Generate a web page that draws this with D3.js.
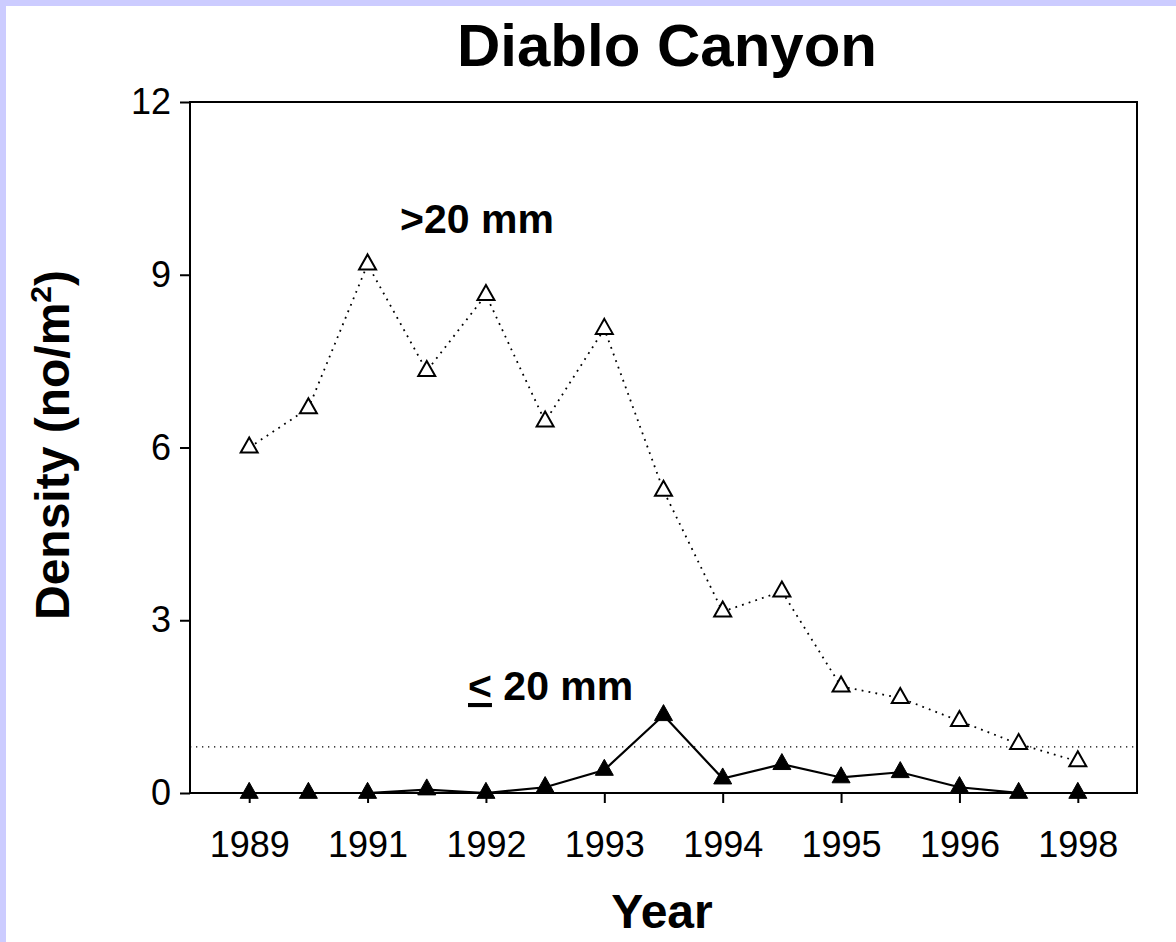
<!DOCTYPE html>
<html>
<head>
<meta charset="utf-8">
<script src="https://cdn.jsdelivr.net/npm/d3@7"></script>
<style>
  html, body { margin: 0; padding: 0; background: #fff; }
  svg { display: block; }
  text { font-family: "Liberation Sans", Arial, Helvetica, sans-serif; fill: #000; }
</style>
</head>
<body>
<script>
// ---- data ----
const surveys = ["1989a","1989b","1991a","1991b","1992a","1992b","1993a","1993b",
                 "1994a","1994b","1995a","1995b","1996a","1996b","1998a"];
const tickLabels = {"1989a":"1989","1991a":"1991","1992a":"1992","1993a":"1993",
                    "1994a":"1994","1995a":"1995","1996a":"1996","1998a":"1998"};
const large = [6.0, 6.68, 9.18, 7.33, 8.65, 6.45, 8.06, 5.25, 3.15, 3.5, 1.85, 1.65, 1.25, 0.85, 0.55]; // >20 mm
const small = [0.0, 0.0, 0.0, 0.06, 0.0, 0.1, 0.4, 1.35, 0.25, 0.5, 0.27, 0.36, 0.1, 0.0, 0.0];      // <=20 mm
const refLine = 0.8;
const yTicks = [0, 3, 6, 9, 12];

// ---- layout ----
const W = 1176, H = 942;
const pL = 190, pR = 1137, pT = 102, pB = 793;

const svg = d3.select("body").append("svg").attr("width", W).attr("height", H);
svg.append("rect").attr("width", W).attr("height", H).attr("fill", "#fff");
svg.append("rect").attr("x", 0).attr("y", 0).attr("width", W).attr("height", 6).attr("fill", "#ccccff");
svg.append("rect").attr("x", 0).attr("y", 0).attr("width", 6).attr("height", H).attr("fill", "#ccccff");

const x = d3.scalePoint().domain(surveys).range([pL, pR]).padding(1);
const y = d3.scaleLinear().domain([0, 12]).range([pB, pT]);

// frame
svg.append("rect").attr("x", pL).attr("y", pT).attr("width", pR - pL).attr("height", pB - pT)
  .attr("fill", "none").attr("stroke", "#000").attr("stroke-width", 2);

// y axis
const yAxis = d3.axisLeft(y).tickValues(yTicks).tickSize(10).tickPadding(9).tickFormat(d3.format("d"));
const gy = svg.append("g").attr("transform", `translate(${pL},0)`).call(yAxis);
gy.select(".domain").remove();
gy.selectAll(".tick line").attr("stroke", "#000").attr("stroke-width", 2);
gy.selectAll(".tick text").style("font-size", "36px").attr("fill", "#000");

// x axis
const xAxis = d3.axisBottom(x).tickValues(Object.keys(tickLabels)).tickSize(10).tickPadding(28)
  .tickFormat(d => tickLabels[d]);
const gx = svg.append("g").attr("transform", `translate(0,${pB})`).call(xAxis);
gx.select(".domain").remove();
gx.selectAll(".tick line").attr("stroke", "#000").attr("stroke-width", 2);
gx.selectAll(".tick text").style("font-size", "36px").attr("fill", "#000");

// reference dotted line
svg.append("line").attr("x1", pL).attr("x2", pR).attr("y1", y(refLine)).attr("y2", y(refLine))
  .attr("stroke", "#000").attr("stroke-width", 1.3).attr("stroke-dasharray", "1.3,4.7");

// >20 mm series
const line = d3.line().x((d, i) => x(surveys[i])).y(d => y(d));
svg.append("path").datum(large).attr("d", line).attr("fill", "none")
  .attr("stroke", "#000").attr("stroke-width", 1.8).attr("stroke-dasharray", "1.8,5.2");
// <=20 mm series
svg.append("path").datum(small).attr("d", line).attr("fill", "none")
  .attr("stroke", "#000").attr("stroke-width", 2.2);

const tri = (w, h) => `M0,${-h*2/3}L${w/2},${h/3}L${-w/2},${h/3}Z`;
svg.append("g").selectAll("path").data(large).join("path")
  .attr("transform", (d, i) => `translate(${x(surveys[i])},${y(d)})`)
  .attr("d", tri(17, 15)).attr("fill", "#fff").attr("stroke", "#000").attr("stroke-width", 2);
svg.append("g").selectAll("path").data(small).join("path")
  .attr("transform", (d, i) => `translate(${x(surveys[i])},${y(d)})`)
  .attr("d", tri(18, 16)).attr("fill", "#000").attr("stroke", "#000").attr("stroke-width", 1);

// labels
svg.append("text").attr("x", 667).attr("y", 66).attr("text-anchor", "middle")
  .style("font-size", "60px").style("font-weight", "bold").text("Diablo Canyon");
svg.append("text").attr("x", 662).attr("y", 928).attr("text-anchor", "middle")
  .style("font-size", "48px").style("font-weight", "bold").text("Year");
const yt = svg.append("text").attr("transform", "translate(69,445) rotate(-90)").attr("text-anchor", "middle")
  .style("font-size", "48px").style("font-weight", "bold");
yt.append("tspan").text("Density (no/m");
yt.append("tspan").attr("dy", -18).style("font-size", "30px").text("2");
yt.append("tspan").attr("dy", 18).text(")");

svg.append("text").attr("x", 400).attr("y", 233).style("font-size", "41px").style("font-weight", "bold").text(">20 mm");
const sm = svg.append("text").attr("x", 468).attr("y", 700).style("font-size", "41px").style("font-weight", "bold");
sm.append("tspan").style("text-decoration", "underline").text("<");
sm.append("tspan").text(" 20 mm");
</script>
</body>
</html>
